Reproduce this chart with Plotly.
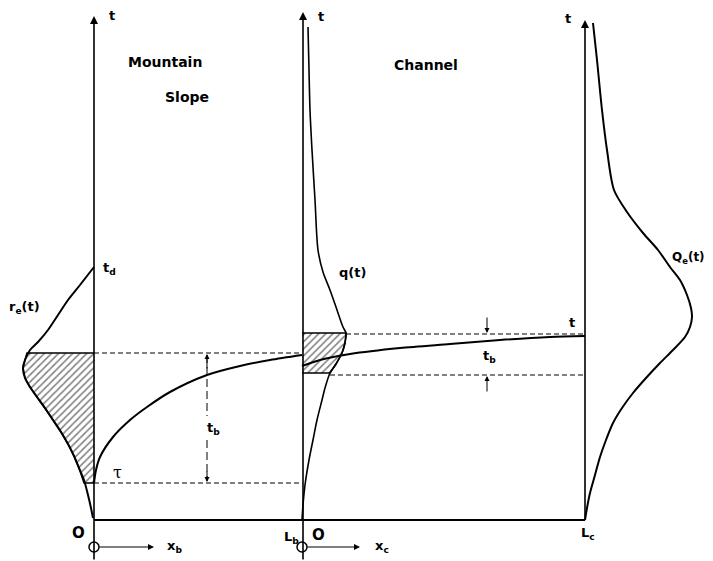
import plotly.graph_objects as go

# ---- diagram data (diagram units, t increases upward = smaller value) ----
# effective rainfall hyetograph r_e(t) drawn to the left of the slope axis
rain_x = [94, 80, 68, 58, 48, 38, 30, 25, 23, 25, 30, 37, 45, 53, 61, 68, 74, 79, 84, 88, 91, 93]
rain_t = [267, 285, 300, 315, 330, 342, 350, 360, 368, 378, 387, 397, 408, 420, 432, 444, 456, 468, 480, 495, 508, 518]
# hatched part of r_e(t) between tau and t
rain_hatch_x = [94, 27, 25, 23, 25, 30, 37, 45, 53, 61, 68, 74, 79, 84, 94]
rain_hatch_t = [353, 353, 360, 368, 378, 387, 397, 408, 420, 432, 444, 456, 468, 483, 483]
# characteristic (arrival time) on the mountain slope
slope_x = [94, 96, 100, 113, 130, 147, 170, 207, 240, 270, 302]
slope_t = [483, 470, 457, 437, 420, 407, 392, 375, 366, 360, 355]
# lateral inflow q(t) to the channel
q_x = [308, 309, 310, 312, 315, 318, 323, 330, 337, 343, 346, 345, 342, 336, 330, 325, 322, 317, 313, 309, 305, 303, 302]
q_t = [27, 70, 110, 150, 200, 250, 272, 290, 310, 327, 333, 343, 353, 364, 373, 388, 400, 420, 440, 460, 485, 505, 520]
q_hatch_x = [302, 346, 345, 342, 336, 330, 302]
q_hatch_t = [333, 333, 343, 353, 364, 373, 373]
# characteristic in the channel
chan_x = [302, 320, 350, 400, 450, 500, 550, 585]
chan_t = [366, 360, 354, 348, 344, 340, 337, 336]
# outflow hydrograph Qe(t)
Qe_x = [593, 597, 602, 607, 614, 627, 643, 658, 670, 680, 687, 691, 692, 690, 685, 673, 660, 646, 633, 622, 613, 606, 600, 595, 590, 587, 585]
Qe_t = [23, 60, 110, 150, 190, 212, 233, 250, 267, 280, 295, 308, 317, 327, 337, 350, 363, 378, 393, 408, 423, 440, 457, 475, 493, 508, 520]

# reference levels
axis_x = [94, 302, 585]
t_top, t_tau, t_bottom = 353, 483, 520
t_q_top, t_q_bot = 334, 375

fig = go.Figure()
DASH = "5px,3px"

def line(x, y, width=2.0, dash="solid", smooth=False):
    fig.add_trace(go.Scatter(x=x, y=y, mode="lines", hoverinfo="skip",
                             line=dict(color="black", width=width, dash=dash,
                                       shape="spline" if smooth else "linear",
                                       smoothing=0.8 if smooth else None),
                             showlegend=False))

def hatch(x, y, shape):
    fig.add_trace(go.Scatter(x=x, y=y, mode="lines", fill="toself", hoverinfo="skip",
                             fillcolor="rgba(0,0,0,0)",
                             fillpattern=dict(shape=shape, fgcolor="black", bgcolor="white",
                                              size=5, solidity=0.3),
                             line=dict(color="black", width=1.5), showlegend=False))

hatch(rain_hatch_x, rain_hatch_t, "/")
hatch(q_hatch_x, q_hatch_t, "/")

# curves
line(rain_x, rain_t, 2.0, smooth=True)
line(slope_x, slope_t, 2.0, smooth=True)
line(q_x, q_t, 1.6, smooth=True)
line(chan_x, chan_t, 2.0, smooth=True)
line(Qe_x, Qe_t, 2.0, smooth=True)

# base line
line([axis_x[0], axis_x[2]], [t_bottom, t_bottom], 2.0)

# dashed levels
line([axis_x[0], axis_x[1]], [t_top, t_top], 1.2, DASH)
line([axis_x[0], axis_x[1]], [t_tau, t_tau], 1.2, DASH)
line([346, axis_x[2]], [t_q_top, t_q_top], 1.2, DASH)
line([330, axis_x[2]], [t_q_bot, t_q_bot], 1.2, DASH)
line([207, 207], [t_top + 2, 416], 1.0, "8px,4px")
line([207, 207], [440, t_tau - 2], 1.0, "8px,4px")

anns = []

def arrow(x0, y0, x1, y1, w=1.5, head=2, size=1.0):
    anns.append(dict(x=x1, y=y1, ax=x0, ay=y0, xref="x", yref="y", axref="x", ayref="y",
                     text="", showarrow=True, arrowhead=head, arrowsize=size,
                     arrowwidth=w, arrowcolor="black", standoff=0, startstandoff=0))

# vertical t axes
arrow(94, 561, 94, 16, 1.6)
arrow(303, 561, 303, 12, 1.6)
arrow(585, 520, 585, 20, 1.6)
# x axes below
arrow(98, 547, 154, 547, 1.2)
arrow(306, 547, 360, 547, 1.2)
# t_b arrows
arrow(207, 370, 207, t_top + 1, 1.0)
arrow(207, 470, 207, t_tau - 1, 1.0)
arrow(487, 316, 487, t_q_top - 1, 1.0)
arrow(487, 393, 487, t_q_bot + 1, 1.0)

FONT = "DejaVu Sans"

def label(x, y, text, size=13, bold=True, family=FONT, bg=None):
    d = dict(x=x, y=y, xref="x", yref="y", text=("<b>%s</b>" % text) if bold else text,
             showarrow=False, font=dict(family=family, size=size, color="black"))
    if bg:
        d["bgcolor"] = bg
        d["borderpad"] = 0
    anns.append(d)

label(165, 62, "Mountain", 14)
label(187, 97, "Slope", 14)
label(426, 65, "Channel", 14)
label(112, 15, "t")
label(321, 16, "t")
label(568, 18, "t")
label(109, 268, "t<sub>d</sub>")
label(24, 307, "r<sub>e</sub>(t)")
label(352, 272, "q(t)")
label(688, 258, "Q<sub>e</sub>(t)", 12)
label(117, 472, "τ", size=16, bold=False, family="DejaVu Serif")
label(213, 428, "t<sub>b</sub>", bg="white")
label(489, 356, "t<sub>b</sub>")
label(572, 322, "t")
label(78, 533, "O", size=15)
label(291, 537, "L<sub>b</sub>")
label(318, 535, "O", size=15)
label(588, 533, "L<sub>c</sub>")
label(174, 546, "x<sub>b</sub>")
label(382, 546, "x<sub>c</sub>")

# origin circles
fig.add_trace(go.Scatter(x=[axis_x[0], axis_x[1]], y=[547, 547], mode="markers", hoverinfo="skip",
                         marker=dict(size=10, color="white", line=dict(color="black", width=1.5)),
                         showlegend=False))

# page body has an 8px margin: shift the data window so diagram units equal page pixels
fig.update_layout(width=705, height=553, margin=dict(l=0, r=0, t=0, b=0),
                  paper_bgcolor="white", plot_bgcolor="white", annotations=anns,
                  xaxis=dict(range=[8, 713], visible=False, fixedrange=True),
                  yaxis=dict(range=[561, 8], visible=False, fixedrange=True))

fig.write_html("out.html")
